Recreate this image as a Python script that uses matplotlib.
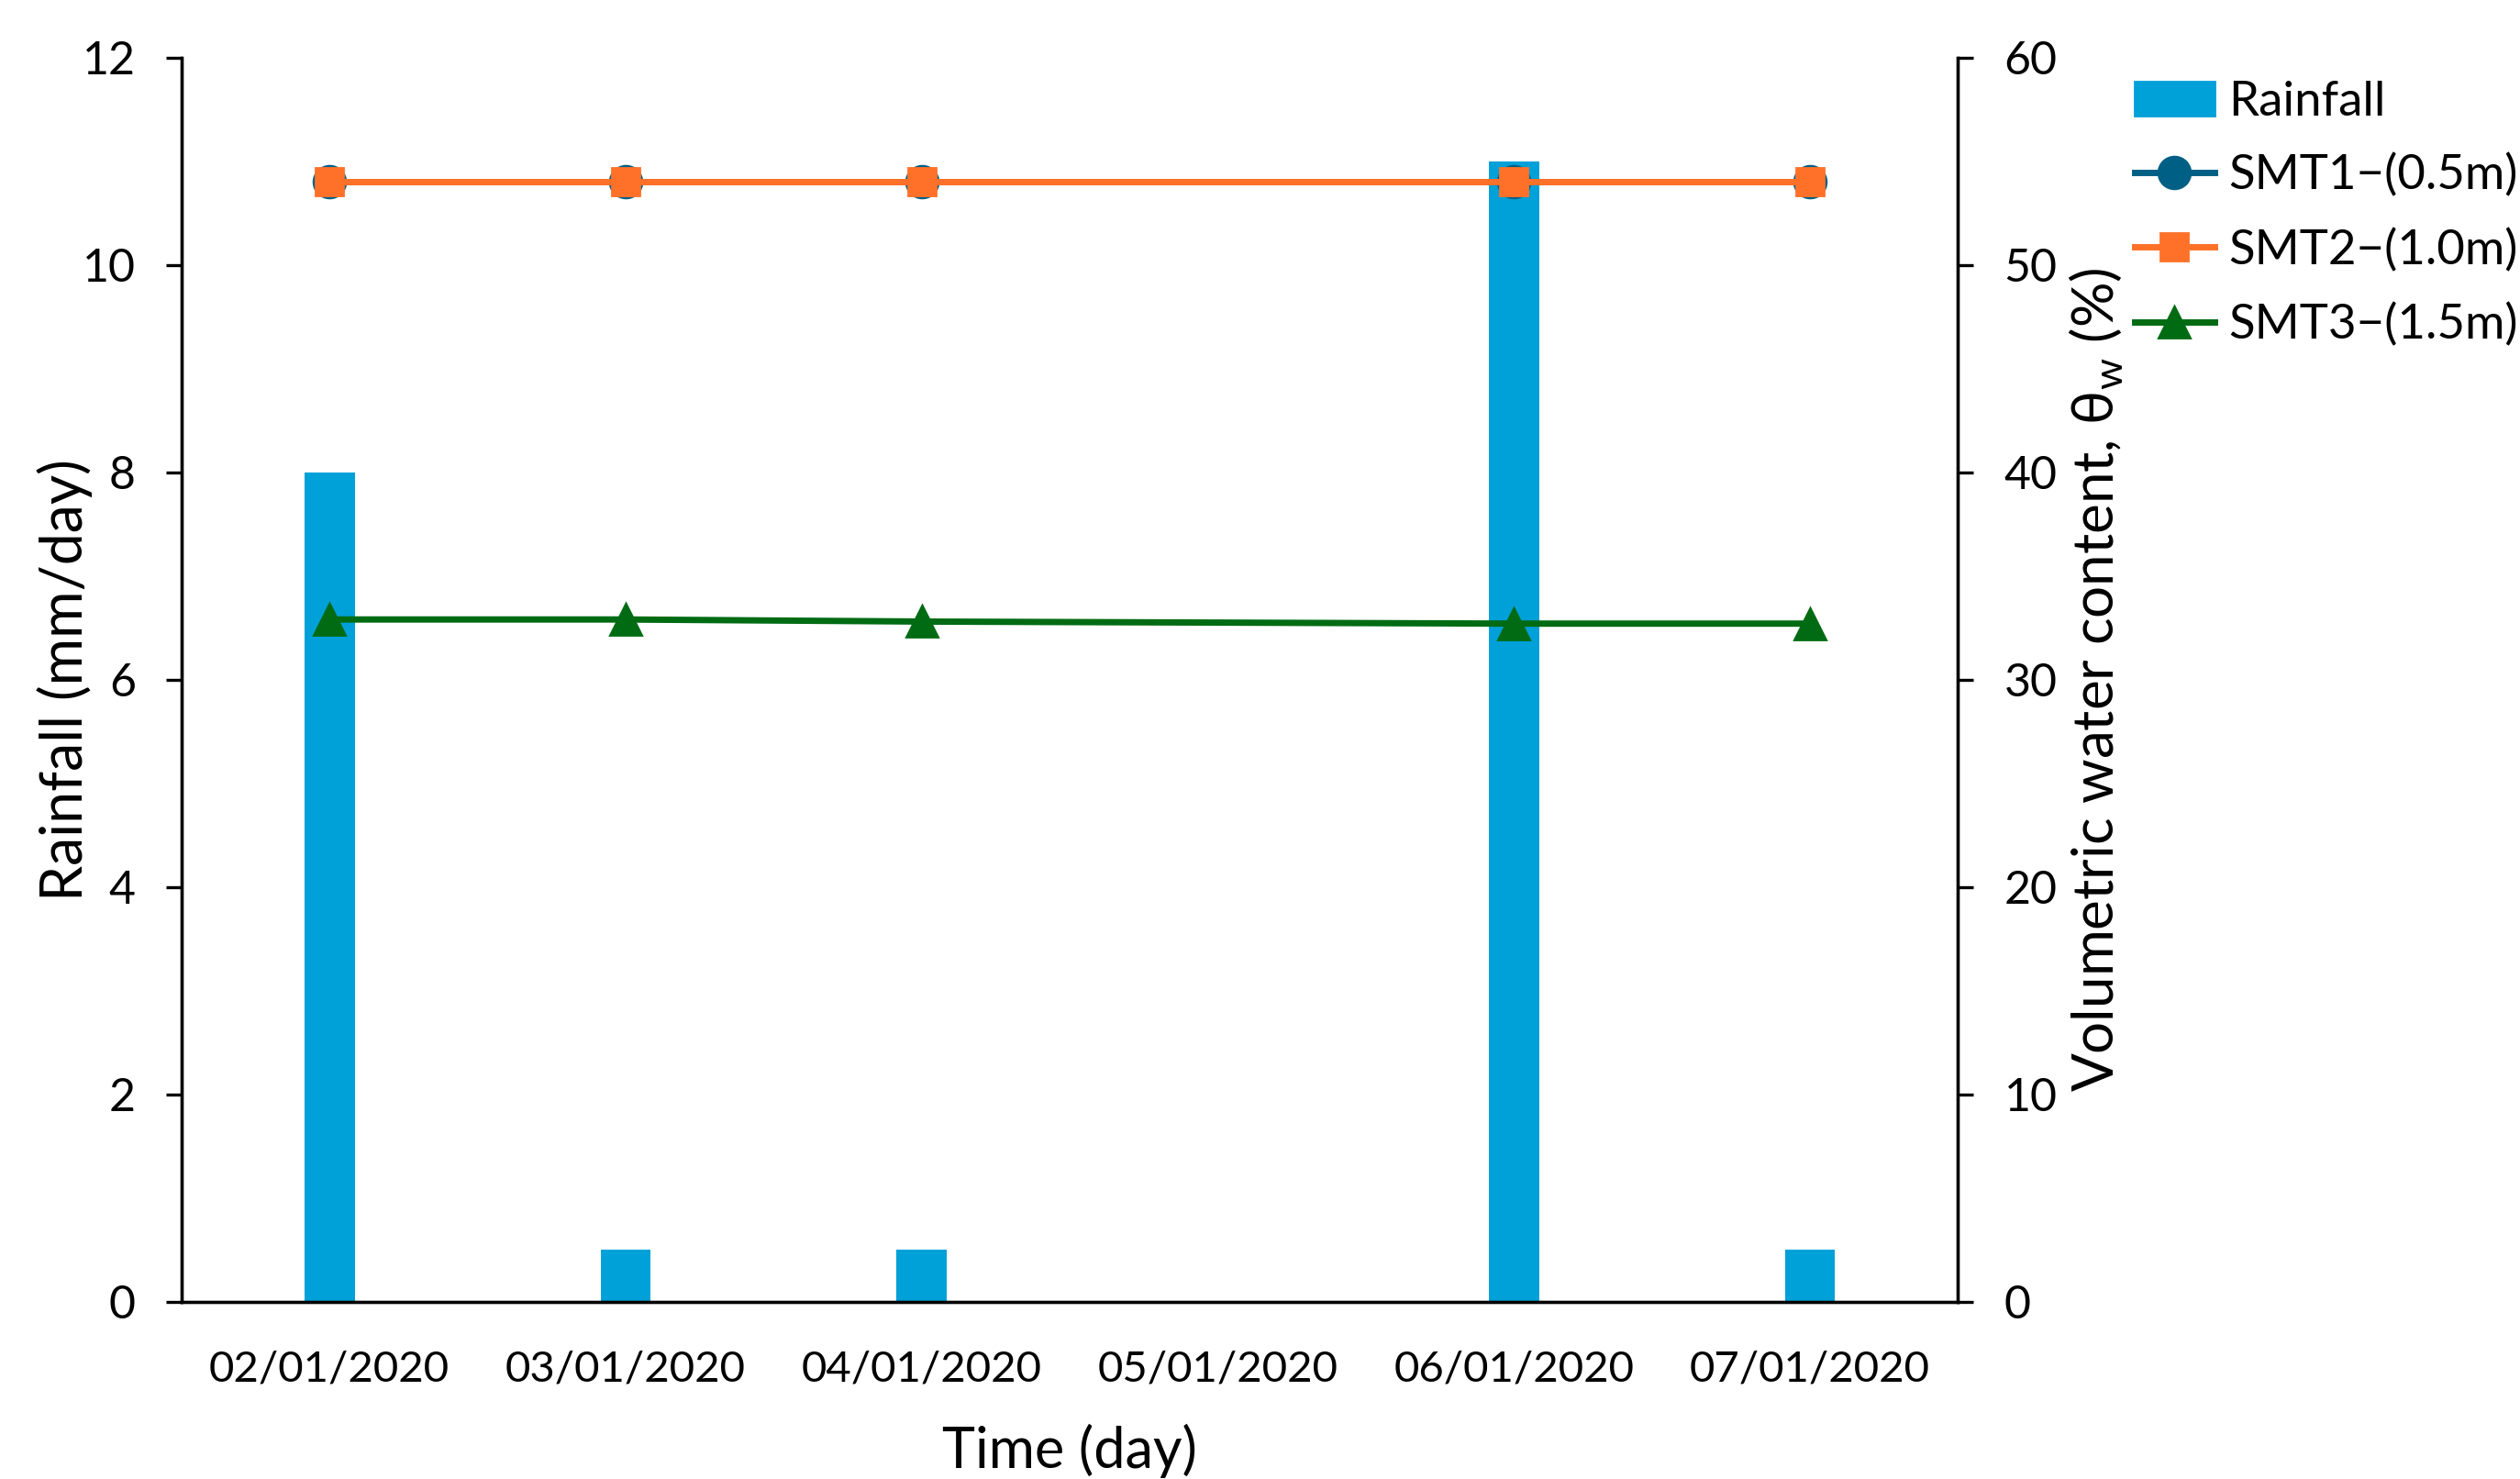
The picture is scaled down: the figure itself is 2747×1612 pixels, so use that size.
import matplotlib
matplotlib.use("Agg")
import matplotlib.pyplot as plt
import numpy as np
from matplotlib.patches import Patch
from matplotlib.lines import Line2D

plt.rcParams['font.family'] = ['Lato', 'DejaVu Sans']
plt.rcParams['mathtext.fontset'] = 'custom'
plt.rcParams['mathtext.rm'] = 'Lato'

dates = ["02/01/2020", "03/01/2020", "04/01/2020", "05/01/2020", "06/01/2020", "07/01/2020"]
rainfall = [8, 0.5, 0.5, 0, 11, 0.5]
smt_dates = ["02/01/2020", "03/01/2020", "04/01/2020", "06/01/2020", "07/01/2020"]
smt1 = [54.0, 54.0, 54.0, 54.0, 54.0]
smt2 = [54.0, 54.0, 54.0, 54.0, 54.0]
smt3 = [32.9, 32.9, 32.8, 32.7, 32.7]

c_bar = '#00A0D8'
c1 = '#005F85'
c2 = '#FF7128'
c3 = '#006B13'

fig = plt.figure(figsize=(13.735, 8.06), dpi=200)
ax = fig.add_axes([0.072, 0.120, 0.705, 0.841])
ax2 = ax.twinx()

x = np.arange(len(dates))
ax.bar(x, rainfall, width=0.17, color=c_bar, zorder=1)
xs = [dates.index(d) for d in smt_dates]
ax2.plot(xs, smt1, color=c1, lw=2.5, marker='o', ms=12.5, zorder=3)
ax2.plot(xs, smt2, color=c2, lw=2.5, marker='s', ms=11, zorder=4)
ax2.plot(xs, smt3, color=c3, lw=2.5, marker='^', ms=12.5, zorder=3)

ax.set_xlim(-0.5, len(dates) - 0.5)
ax.set_ylim(0, 12)
ax.set_yticks(np.arange(0, 13, 2))
ax2.set_ylim(0, 60)
ax2.set_yticks(np.arange(0, 61, 10))
ax.set_xticks(x)
ax.set_xticklabels(dates)
ax.tick_params(axis='x', length=0, labelsize=17, pad=19)
ax.tick_params(axis='y', labelsize=18, length=6, width=1.2, direction='out', pad=12)
ax2.tick_params(axis='y', labelsize=18, length=6, width=1.2, direction='out', pad=12)

for a in (ax, ax2):
    for s in a.spines.values():
        s.set_linewidth(1.2)
    a.spines['top'].set_visible(False)

ax.set_ylabel("Rainfall (mm/day)", fontsize=22.5, labelpad=-4)
ax2.set_ylabel(r"Volumetric water content, θ$_\mathrm{w}$ (%)", fontsize=22.3, labelpad=4)
ax.set_xlabel("Time (day)", fontsize=22, labelpad=14)

handles = [
    Patch(color=c_bar, label="Rainfall"),
    Line2D([], [], color=c1, lw=2.5, marker='o', ms=12.5, label="SMT1\u2212(0.5m)"),
    Line2D([], [], color=c2, lw=2.5, marker='s', ms=11, label="SMT2\u2212(1.0m)"),
    Line2D([], [], color=c3, lw=2.5, marker='^', ms=12.5, label="SMT3\u2212(1.5m)"),
]
fig.legend(handles=handles, loc='upper left', bbox_to_anchor=(1316/1568, 1 - 38/920),
           frameon=False, fontsize=19, handlelength=1.65, handletextpad=0.3,
           labelspacing=0.62, borderaxespad=0)

fig.savefig("out.png", dpi=200, facecolor='white')
